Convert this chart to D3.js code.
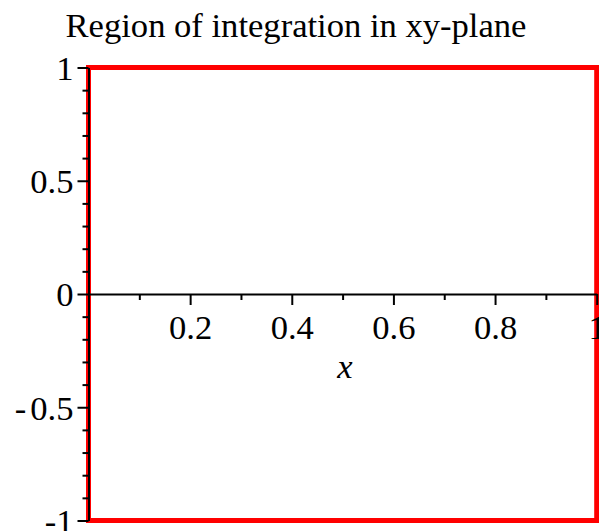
<!DOCTYPE html>
<html>
<head>
<meta charset="UTF-8">
<title>Region of integration in xy-plane</title>
<script src="https://d3js.org/d3.v7.min.js"></script>
<style>
  body { margin: 0; background: #fff; }
  svg { display: block; font-family: "Liberation Serif", "Times New Roman", serif; }
  .tick text { font-size: 34.6px; fill: #000; font-family: "Liberation Serif", "Times New Roman", serif; }
</style>
</head>
<body>
<svg width="599" height="531"></svg>
<script>
  // region bounds
  const xRange = [0, 1];
  const yRange = [-1, 1];

  // ticks
  const xMajor = [0.2, 0.4, 0.6, 0.8, 1];
  const xMinor = [0.1, 0.3, 0.5, 0.7, 0.9];
  const yMajor = [-1, -0.5, 0, 0.5, 1];
  const yMinor = [-0.9, -0.8, -0.7, -0.6, -0.4, -0.3, -0.2, -0.1, 0.1, 0.2, 0.3, 0.4, 0.6, 0.7, 0.8, 0.9];
  const yLabels = ["-1", "-0.5", "0", "0.5", "1"];

  const title = "Region of integration in xy-plane";
  const xLabel = "x";

  const svg = d3.select("svg");
  const x = d3.scaleLinear().domain([0, 1]).range([88.5, 596.7]);
  const y = d3.scaleLinear().domain([-1, 1]).range([520.5, 67.5]);

  svg.append("text")
    .attr("x", 296).attr("y", 37)
    .attr("text-anchor", "middle")
    .attr("font-size", 34.6)
    .text(title);

  // the region
  svg.append("rect")
    .attr("x", x(xRange[0])).attr("y", y(yRange[1]))
    .attr("width", x(xRange[1]) - x(xRange[0]))
    .attr("height", y(yRange[0]) - y(yRange[1]))
    .attr("fill", "none")
    .attr("stroke", "#ff0000")
    .attr("stroke-width", 5);

  // x axis (through y = 0)
  const gx = svg.append("g").attr("transform", `translate(0,${y(0)})`);
  gx.append("g")
    .call(d3.axisBottom(x).tickValues(xMinor).tickSize(6).tickFormat(""))
    .call(g => g.select(".domain").remove());
  gx.append("g")
    .call(d3.axisBottom(x).tickValues(xMajor).tickSize(11).tickSizeOuter(0).tickPadding(9.5)
      .tickFormat(d3.format("")))
    .call(g => g.selectAll(".tick text").attr("dy", "0.71em"));
  gx.selectAll("path, line").attr("stroke", "#000").attr("stroke-width", 2);

  svg.append("text")
    .attr("x", 345).attr("y", 378)
    .attr("text-anchor", "middle")
    .attr("font-size", 34.6)
    .attr("font-style", "italic")
    .text(xLabel);

  // y axis (through x = 0)
  const gy = svg.append("g").attr("transform", `translate(${x(0)},0)`);
  gy.append("g")
    .call(d3.axisLeft(y).tickValues(yMinor).tickSize(6).tickFormat(""))
    .call(g => g.select(".domain").remove());
  gy.append("g")
    .call(d3.axisLeft(y).tickValues(yMajor).tickSize(11).tickSizeOuter(0).tickPadding(4)
      .tickFormat((d, i) => yLabels[i]))
    .call(g => g.selectAll(".tick text").attr("dy", "0.34em"));
  gy.selectAll("path, line").attr("stroke", "#000").attr("stroke-width", 2);

  // Maple-style minus: a little gap after the sign on -0.5
  gy.selectAll(".tick text").filter(d => d === -0.5).each(function() {
    const t = d3.select(this), s = t.text();
    t.text(null);
    t.append("tspan").text(s[0]);
    t.append("tspan").attr("dx", 4).text(s.slice(1));
  });

  svg.selectAll("g").attr("font-family", null);
</script>
</body>
</html>
